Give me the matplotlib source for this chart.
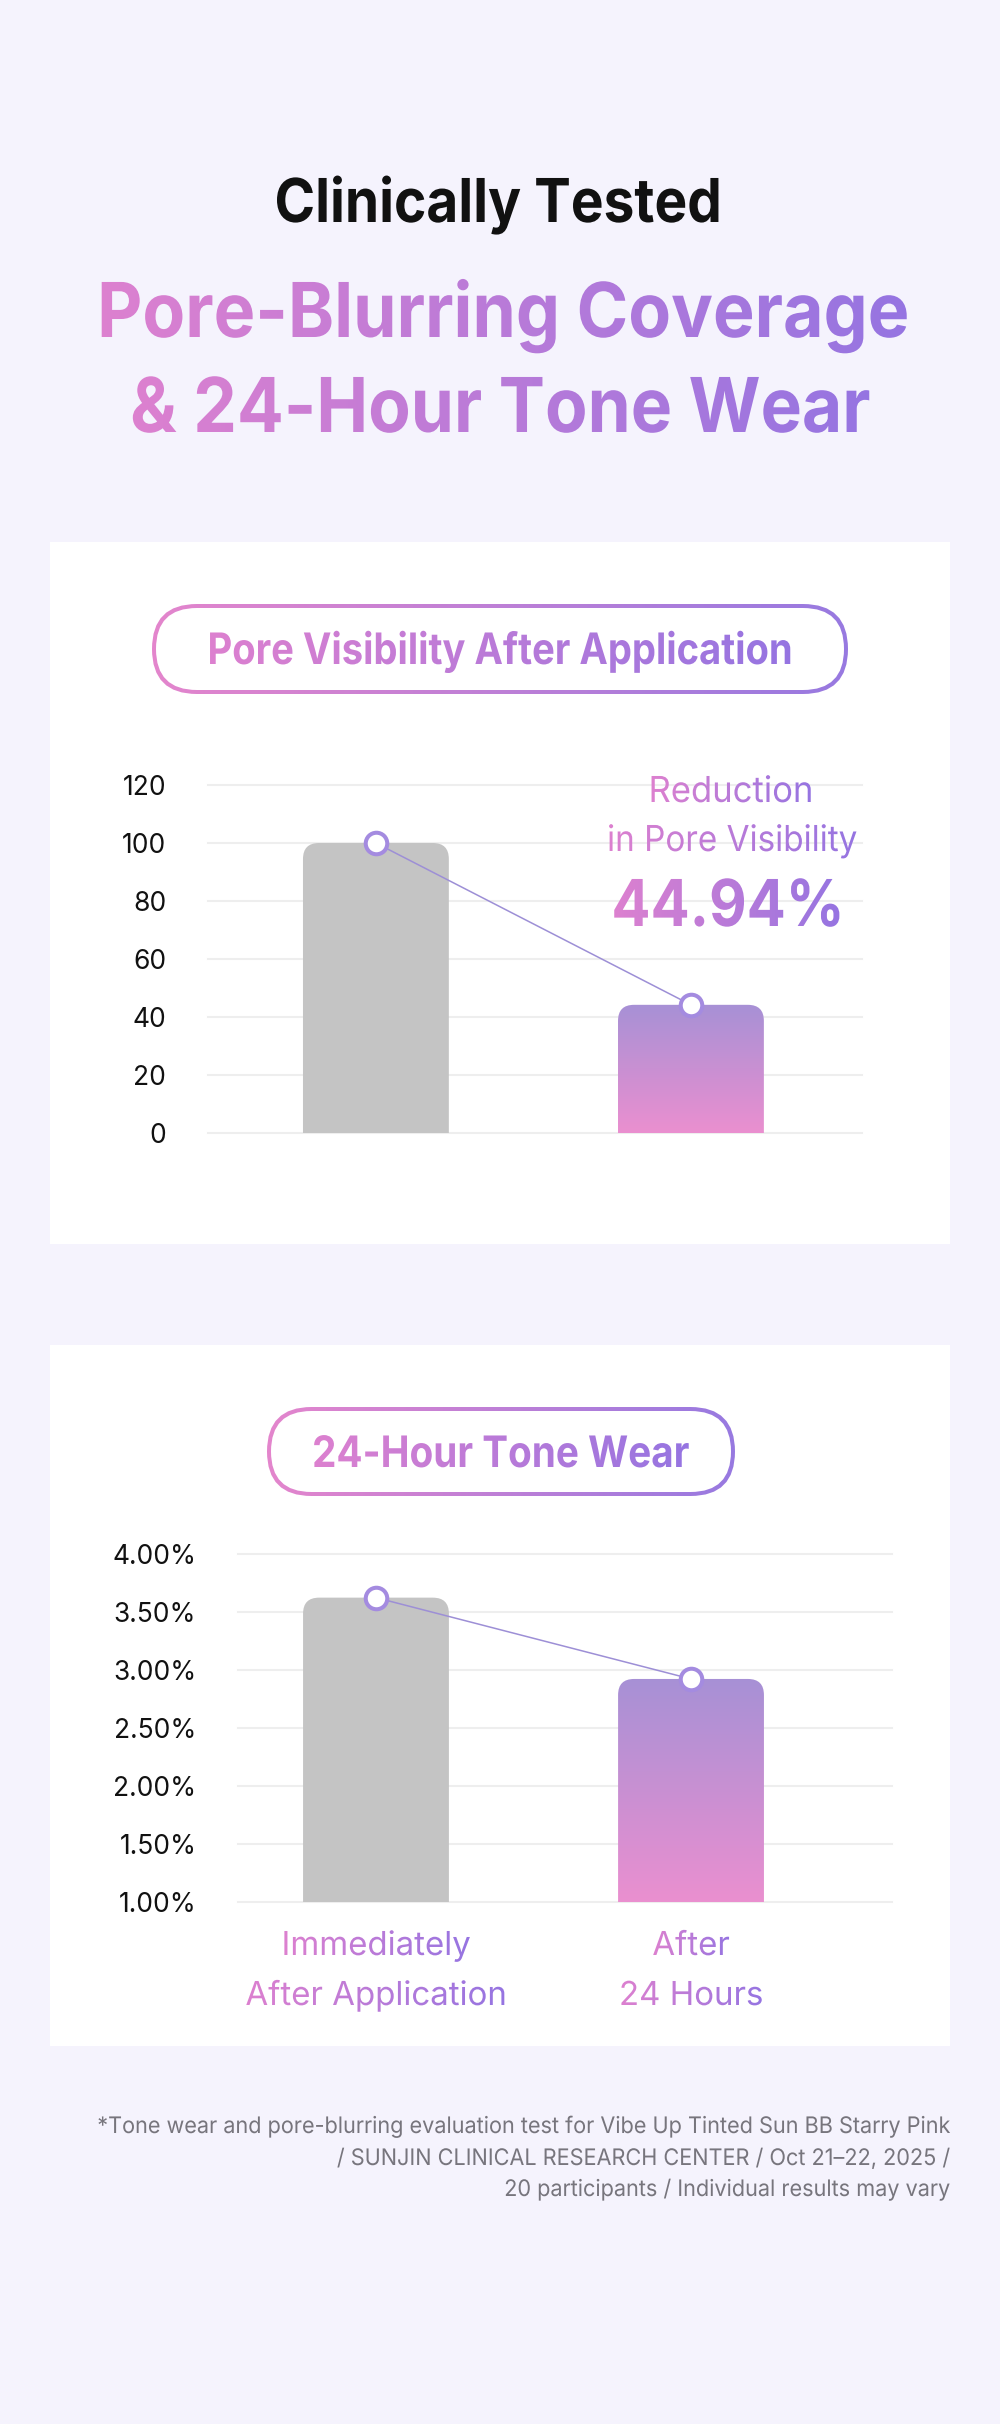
import numpy as np
import matplotlib
matplotlib.use("Agg")
import matplotlib.pyplot as plt
import matplotlib.transforms as mtransforms
from matplotlib.patches import Rectangle, FancyBboxPatch
from matplotlib.patheffects import AbstractPathEffect
from matplotlib.transforms import TransformedPath, Bbox, Affine2D
from matplotlib.colors import to_rgb

plt.rcParams['font.family'] = ['Inter', 'DejaVu Sans']

# data
categories = ['Immediately\nAfter Application', 'After\n24 Hours']
pore_values = [100, 44.2]
pore_ticks = [0, 20, 40, 60, 80, 100, 120]
wear_values = [3.62, 2.92]
wear_ticks = [1.0, 1.5, 2.0, 2.5, 3.0, 3.5, 4.0]
wear_tick_labels = ['1.00%', '1.50%', '2.00%', '2.50%', '3.00%', '3.50%', '4.00%']
reduction_label = '44.94%'

W, H = 1000, 2424
BG = '#f5f3fd'
PINK = '#dc80cf'
PURPLE = '#9574e1'
CAP = 0.727  # Inter cap height / em


class GradientFill(AbstractPathEffect):
    """fill the drawn path with a linear gradient, optionally squeezed in x"""
    def __init__(self, c0, c1, vertical=False, sx=1.0, anchor='center'):
        super().__init__()
        self.c0 = np.array(to_rgb(c0))
        self.c1 = np.array(to_rgb(c1))
        self.vertical = vertical
        self.sx = sx
        self.anchor = anchor

    def draw_path(self, renderer, gc, tpath, affine, rgbFace=None):
        ext = affine.transform_path(tpath).get_extents()
        if self.sx != 1:
            cx = ext.x1 if self.anchor == 'right' else (ext.x0 + ext.x1) / 2
            affine = affine + Affine2D().translate(-cx, 0).scale(self.sx, 1).translate(cx, 0)
            ext = affine.transform_path(tpath).get_extents()
        clip = gc.get_clip_rectangle()
        if clip is not None:
            ext = Bbox.intersection(ext, clip)
            if ext is None:
                return
        x0, y0 = int(np.floor(ext.x0)), int(np.floor(ext.y0))
        w = int(np.ceil(ext.x1)) - x0 + 1
        h = int(np.ceil(ext.y1)) - y0 + 1
        if self.vertical:
            # image rows run bottom -> top here, c0 goes on top
            t = np.repeat(np.linspace(1, 0, h)[:, None], w, axis=1)
        else:
            t = np.repeat(np.linspace(0, 1, w)[None, :], h, axis=0)
        rgb = self.c0 + (self.c1 - self.c0) * t[..., None]
        img = np.empty((h, w, 4), np.uint8)
        img[..., :3] = np.round(rgb * 255)
        img[..., 3] = 255
        gc2 = renderer.new_gc()
        gc2.copy_properties(gc)
        gc2.set_clip_path(TransformedPath(tpath, affine))
        renderer.draw_image(gc2, x0, y0, img)
        gc2.restore()


fig = plt.figure(figsize=(W / 100, H / 100), dpi=100, facecolor=BG)

# pixel-space layers below and above the charts
bg = fig.add_axes([0, 0, 1, 1], zorder=0)
ov = fig.add_axes([0, 0, 1, 1], zorder=5)
for a in (bg, ov):
    a.set_xlim(0, W)
    a.set_ylim(H, 0)
    a.axis('off')
    a.patch.set_alpha(0)

bg.add_patch(Rectangle((50, 542), 900, 702, facecolor='white', edgecolor='none'))
bg.add_patch(Rectangle((50, 1345), 900, 701, facecolor='white', edgecolor='none'))

renderer = fig.canvas.get_renderer()


def squeeze(t, width, cap_px, min_sx=0.88):
    """size text by cap height, then narrow it to the wanted width"""
    fs = cap_px / CAP * 0.72
    t.set_fontsize(fs)
    ratio = width / t.get_window_extent(renderer).width
    if ratio < min_sx:
        fs *= ratio / min_sx
        ratio = min_sx
    t.set_fontsize(fs)
    return fs, min(ratio, 1.0)


def grad_text(x, y, s, width, cap_px, weight='bold', c0=PINK, c1=PURPLE, **kw):
    t = ov.text(x, y, s, fontweight=weight, ha='center', va='baseline', **kw)
    fs, sx = squeeze(t, width, cap_px)
    t.set_path_effects([GradientFill(c0, c1, sx=sx)])
    return t


# headline
grad_text(498, 222, 'Clinically Tested', 447, 44, c0='#111111', c1='#111111')
grad_text(503, 337, 'Pore-Blurring Coverage', 812, 55)
grad_text(500, 432, '& 24-Hour Tone Wear', 740, 55)


def pill(x, y, w, h, label, baseline, text_w):
    ov.add_patch(FancyBboxPatch((x, y), w, h, boxstyle=f'round,pad=0,rounding_size={h / 2}',
                                facecolor='k', edgecolor='none',
                                path_effects=[GradientFill('#e385cc', '#9779e0')]))
    lw = 4
    ov.add_patch(FancyBboxPatch((x + lw, y + lw), w - 2 * lw, h - 2 * lw,
                                boxstyle=f'round,pad=0,rounding_size={h / 2 - lw}',
                                facecolor='white', edgecolor='none'))
    grad_text(x + w / 2, baseline, label, text_w, 31.5)


pill(152, 604, 696, 90, 'Pore Visibility After Application', 664, 585)
pill(267, 1407, 468, 89, '24-Hour Tone Wear', 1467, 378)


def chart(rect_px, values, ticks, labels, ylim, xlim):
    x0, y0, x1, y1 = rect_px
    ax = fig.add_axes([x0 / W, 1 - y1 / H, (x1 - x0) / W, (y1 - y0) / H], zorder=2)
    ax.patch.set_alpha(0)
    ax.set_xlim(*xlim)
    ax.set_ylim(*ylim)
    for s in ax.spines.values():
        s.set_visible(False)
    ax.set_yticks(ticks, labels)
    ax.set_xticks([])
    ax.tick_params(axis='y', length=0, pad=30, labelsize=19, labelcolor='#111111')
    ax.grid(axis='y', color='#eeeeee', lw=1.5)
    ax.set_axisbelow(True)
    for gl in ax.get_ygridlines():
        gl.set_clip_on(False)

    px_x = (x1 - x0) / (xlim[1] - xlim[0])
    px_y = (y1 - y0) / (ylim[1] - ylim[0])
    r = 16
    xs = np.arange(len(values))
    bars = ax.bar(xs, values, width=0.463)
    for i, b in enumerate(bars):
        bx, by, bw, bh = b.get_x(), b.get_y(), b.get_width(), b.get_height()
        b.remove()
        ext = r / px_y  # push the lower rounding below the clip edge
        kw = dict(boxstyle=f'round,pad=0,rounding_size={r / px_x}',
                  mutation_aspect=px_x / px_y, edgecolor='none', zorder=2)
        if i == 0:
            p = FancyBboxPatch((bx, by - ext), bw, bh + ext, facecolor='#c4c4c4', **kw)
        else:
            p = FancyBboxPatch((bx, by - ext), bw, bh + ext, facecolor='k',
                               path_effects=[GradientFill('#a690d5', '#ea8fcf', vertical=True)], **kw)
        ax.add_patch(p)
    ax.plot(xs, values, color='#9d8fd6', lw=1.1, zorder=3, clip_on=False)
    ax.plot(xs, values, 'o', ms=15.5, mfc='white', mec='#a48be0', mew=2.9,
            zorder=4, clip_on=False)
    return ax


ax1 = chart((208, 785, 862, 1133), pore_values, pore_ticks,
            [str(t) for t in pore_ticks], (0, 120), (-0.533, 1.543))
ax2 = chart((238, 1553.5, 892, 1902), wear_values, wear_ticks,
            wear_tick_labels, (1.0, 4.0), (-0.438, 1.638))

# reduction callout
grad_text(731, 802, 'Reduction', 165, 26, weight='normal')
grad_text(732, 851, 'in Pore Visibility', 250, 26, weight='normal')
grad_text(728, 926, reduction_label, 233, 47)

# category labels under chart 2
tr = mtransforms.blended_transform_factory(ax2.transData, ov.transData)
cat_texts = []
for i, cat in enumerate(categories):
    for line, base in zip(cat.split('\n'), (1955, 2005)):
        cat_texts.append(ov.text(i, base, line, transform=tr, ha='center', va='baseline'))
fs, sx = squeeze(cat_texts[1], 270, 24)
for t in cat_texts:
    t.set_fontsize(fs)
    t.set_path_effects([GradientFill(PINK, PURPLE, sx=sx)])

# footnote
notes = ['*Tone wear and pore-blurring evaluation test for Vibe Up Tinted Sun BB Starry Pink',
         '/ SUNJIN CLINICAL RESEARCH CENTER / Oct 21\u201322, 2025 /',
         '20 participants / Individual results may vary']
note_base = [2133, 2165, 2196]
nt = [ov.text(949, b, s, color='#77757d', ha='right', va='baseline')
      for s, b in zip(notes, note_base)]
fs, sx = squeeze(nt[0], 852, 18, min_sx=0.95)
for t in nt:
    t.set_fontsize(fs)
    t.set_path_effects([GradientFill('#77757d', '#77757d', sx=sx, anchor='right')])

fig.savefig('out.png', dpi=100, facecolor=BG)
